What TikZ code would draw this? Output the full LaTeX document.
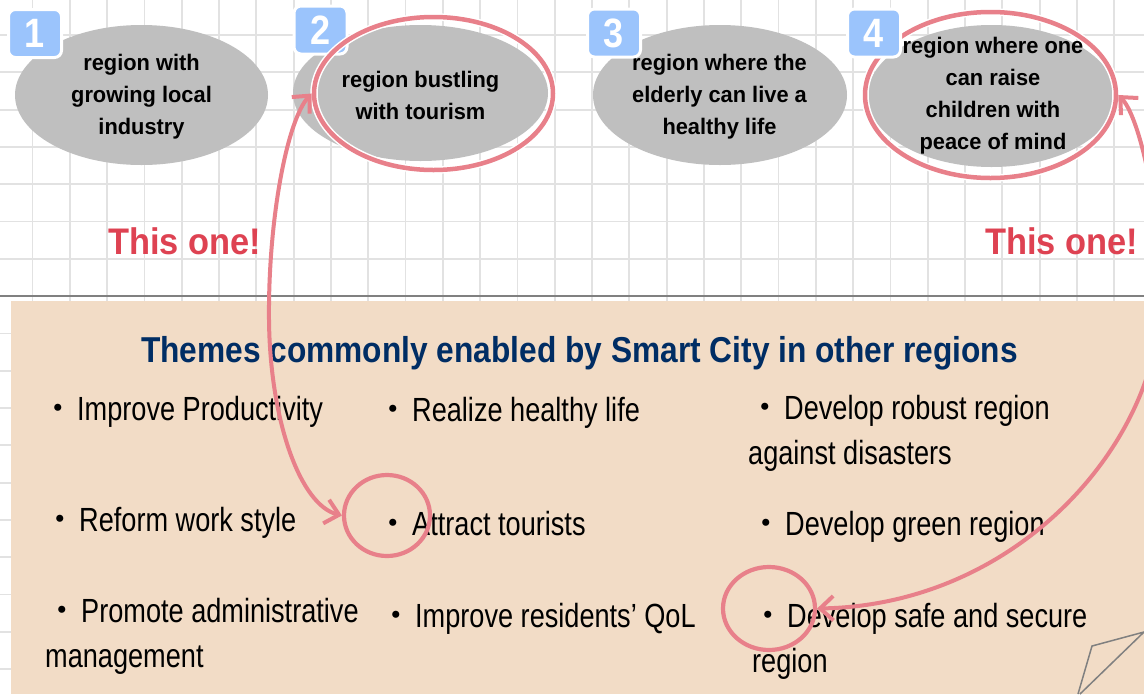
\documentclass[tikz,border=0pt]{standalone}
\usepackage{fontspec}
\setmainfont{Liberation Sans}
\newfontfamily\ellfont[FakeStretch=0.97]{Liberation Sans}
\newfontfamily\itemfont[FakeStretch=0.81]{Liberation Sans}
\newfontfamily\titlefont[FakeStretch=0.88]{Liberation Sans}
\newfontfamily\hifont[FakeStretch=0.93]{Liberation Sans}
\newfontfamily\numfont[FakeStretch=0.88]{Liberation Sans}
\newfontfamily\cjk{Noto Sans CJK JP}
\usetikzlibrary{shapes.geometric,arrows.meta}
\definecolor{ellgray}{RGB}{191,191,191}
\definecolor{badgeblue}{RGB}{155,196,252}
\definecolor{pinkc}{RGB}{232,128,138}
\definecolor{hired}{RGB}{222,66,82}
\definecolor{navy}{RGB}{0,45,100}
\definecolor{beige}{RGB}{242,220,198}
\definecolor{gridc}{RGB}{226,226,226}
\definecolor{sepgray}{RGB}{128,128,128}
\newcommand{\bul}{\makebox[30pt][c]{\cjk ・}\hspace{4pt}}
\tikzset{
  gridline/.style={draw=gridc, line width=1.8pt},
  grayell/.style={ellipse, fill=ellgray, draw=none, inner sep=0pt},
  etext/.style={font=\ellfont\bfseries\fontsize{22.5}{32}\selectfont, align=center, inner sep=0pt, text=black},
  ring/.style={ellipse, draw=pinkc, line width=4.5pt, inner sep=0pt, preaction={draw=white, line width=7.5pt}},
  smallring/.style={ellipse, draw=pinkc, line width=4.2pt, inner sep=0pt},
  badge/.style={rectangle, rounded corners=7pt, fill=badgeblue, draw=white, line width=3pt,
    minimum width=53pt, minimum height=48pt, inner sep=0pt, text=white,
    font=\numfont\bfseries\fontsize{41}{41}\selectfont},
  hitext/.style={font=\hifont\bfseries\fontsize{37}{37}\selectfont, text=hired, inner sep=0pt, anchor=base west},
  item/.style={font=\itemfont\fontsize{33.5}{45}\selectfont, text=black, inner sep=0pt, anchor=base west},
  conn/.style={draw=pinkc, line width=4pt, line cap=round,
    {Straight Barb[angle=85:18pt]}-{Straight Barb[angle=85:18pt]}},
  fold/.style={draw=sepgray, line width=1.5pt}
}
\begin{document}
\begin{tikzpicture}[x=1pt,y=-1pt]
\clip (0,0) rectangle (1144,694);
\fill[white] (0,0) rectangle (1144,694);
% grid
\foreach \i in {0,...,30} \draw[gridline] ({32.5+37.3*\i},0) -- ({32.5+37.3*\i},694);
\foreach \j in {0,...,18} \draw[gridline] (0,{35+37.3*\j}) -- (1144,{35+37.3*\j});
% panel
\fill[beige] (11,301) rectangle (1144,694);
\draw[draw=sepgray, line width=2pt] (0,296) -- (1144,296);
% folded corner
\draw[fold] (1078,694) -- (1092,646) -- (1144,632) -- (1080,694);

% gray ellipses
\node[grayell, minimum width=253pt, minimum height=140pt] (e1) at (141.5,95) {};
\node[grayell, minimum width=255pt, minimum height=136pt] (e2) at (420.5,93) {};
\node[grayell, minimum width=254pt, minimum height=140pt] (e3) at (720,95) {};
\node[grayell, minimum width=248pt, minimum height=142pt] (e4) at (991.5,96) {};

\node[etext] (t1) at (141.5,97) {region with\\growing local\\industry};
\node[etext] (t2) at (420.5,95.5) {region bustling\\with tourism};
\node[etext] (t3) at (719.5,97) {region where the\\elderly can live a\\healthy life};
\node[etext] (t4) at (993,96) {region where one\\can raise\\children with\\peace of mind};

% ring around 4 (under badge)
\node[ring, minimum width=251pt, minimum height=166pt] (r4) at (990.5,95) {};

% badges
\node[badge] (b1) at (35,33.5) {1};
\node[badge] (b2) at (320.5,30) {2};
\node[badge] (b3) at (614,33) {3};
\node[badge] (b4) at (874,33) {4};

% ring around 2 (over badge)
\node[ring, minimum width=239pt, minimum height=153pt] (r2) at (433.5,93.5) {};

% highlights
\node[hitext] (h1) at (108,254.5) {This one!};
\node[hitext] (h2) at (985,254.5) {This one!};

% title
\node[font=\titlefont\bfseries\fontsize{36}{36}\selectfont, text=navy, inner sep=0pt, anchor=base] (title) at (579.5,362) {Themes commonly enabled by Smart City in other regions};

% items
\node[item] (i11) at (43,420) {\bul Improve Productivity};
\node[item] (i21) at (378,421) {\bul Realize healthy life};
\node[item] (i31) at (750,419) {\bul Develop robust region};
\node[item] (i31b) at (748,464) {against disasters};
\node[item] (i12) at (45,531) {\bul Reform work style};
\node[item] (i22) at (378,535) {\bul Attract tourists};
\node[item] (i32) at (751,535) {\bul Develop green region};
\node[item] (i13) at (47,622) {\bul Promote administrative};
\node[item] (i13b) at (45,667) {management};
\node[item] (i23) at (381,627) {\bul Improve residents’ QoL};
\node[item] (i33) at (753,627) {\bul Develop safe and secure};
\node[item] (i33b) at (752,672) {region};

% small rings
\node[smallring, minimum width=86pt, minimum height=81pt] (c1) at (387,515.5) {};
\node[smallring, minimum width=92pt, minimum height=83pt] (c2) at (769,608.5) {};

% connectors
\coordinate (a1) at (269,320);
\coordinate (a2) at (1160,300);
\draw[conn] (r2.west) .. controls (287,120) and (268,220) .. (a1) .. controls (270,420) and (300,505) .. (c1.west);
\draw[conn] (r4.east) .. controls (1138,115) and (1160,200) .. (a2) .. controls (1160,440) and (1020,605) .. (c2.east);
\end{tikzpicture}
\end{document}
